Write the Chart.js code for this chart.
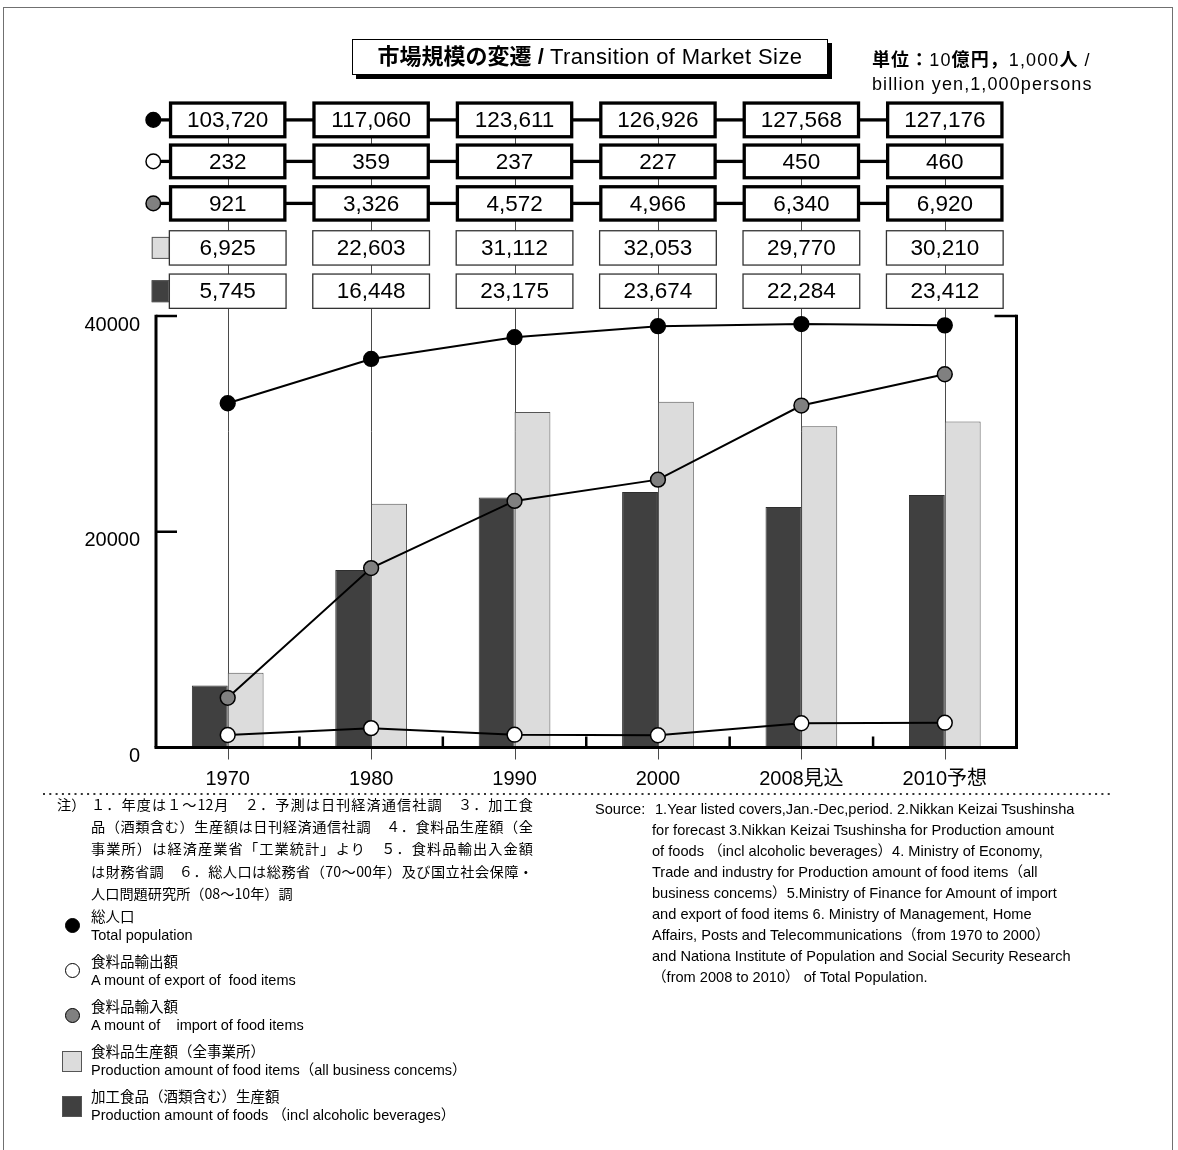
<!DOCTYPE html>
<html lang="ja">
<head>
<meta charset="utf-8">
<title>市場規模の変遷 / Transition of Market Size</title>
<script src="https://cdn.jsdelivr.net/npm/chart.js@4.4.1/dist/chart.umd.min.js"></script>
<style>
  html, body { margin: 0; padding: 0; background: #fff; }
  body {
    width: 1178px; height: 1150px; position: relative; overflow: hidden; color: #000;
    font-family: "Liberation Sans", Arial, "Noto Sans CJK JP", sans-serif;
  }
  #chart { position: absolute; left: 0; top: 0; }
  #frame { position: absolute; left: 3px; top: 7px; width: 1170px; height: 1200px; border: 1px solid #707070; box-sizing: border-box; }
  .abs { position: absolute; white-space: pre; }
  #title {
    left: 352px; top: 39px; width: 476px; height: 36px; box-sizing: border-box;
    border: 1px solid #000; box-shadow: 4px 4px 0 #000; background: #fff;
    text-align: center; font-size: 22px; line-height: 34px;
  }
  #title .en { letter-spacing: 0.4px; }
  .unit { left: 872px; font-size: 18px; line-height: 24px; letter-spacing: 1.1px; }
  .note { font-size: 14.2px; line-height: 22px; font-family: "Noto Sans CJK JP", sans-serif; }
  .note.fill { width: 442px; text-align: justify; text-align-last: justify; white-space: normal; }
  .src { font-size: 14.6px; line-height: 21px; }
  .lg { left: 91px; font-size: 14.5px; line-height: 18px; }
  .mk { position: absolute; box-sizing: border-box; }
</style>
</head>
<body>
<canvas id="chart" width="1178" height="1150"></canvas>
<div id="frame"></div>

<div id="title" class="abs"><b>市場規模の変遷 /</b> <span class="en">Transition of Market Size</span></div>
<div class="abs unit" style="top:48px"><b>単位：</b>10<b>億円，</b>1,000<b>人</b> /</div>
<div class="abs unit" style="top:72px">billion yen,1,000persons</div>

<div id="notes"></div>
<div id="sources"></div>
<div id="legend"></div>

<script>
// Categories (fiscal years) and series values
const categories = ['1970', '1980', '1990', '2000', '2008見込', '2010予想'];
const population = [103720, 117060, 123611, 126926, 127568, 127176];          // 1,000 persons
const exportAmount = [232, 359, 237, 227, 450, 460];                           // 10 billion yen
const importAmount = [921, 3326, 4572, 4966, 6340, 6920];                      // 10 billion yen
const foodItemsProduction = [6925, 22603, 31112, 32053, 29770, 30210];         // 10 billion yen
const processedFoodsProduction = [5745, 16448, 23175, 23674, 22284, 23412];    // 10 billion yen
const leftTicks = [0, 20000, 40000];

const seriesJa = ['総人口', '食料品輸出額', '食料品輸入額', '食料品生産額（全事業所）', '加工食品（酒類含む）生産額'];
const seriesEn = [
  'Total population',
  'A mount of export of  food items',
  'A mount of    import of food items',
  'Production amount of food items（all business concems）',
  'Production amount of foods （incl alcoholic beverages）'
];

const noteLines = [
  '１．年度は１～12月　２．予測は日刊経済通信社調　３．加工食',
  '品（酒類含む）生産額は日刊経済通信社調　４．食料品生産額（全',
  '事業所）は経済産業省「工業統計」より　５．食料品輸出入金額',
  'は財務省調　６．総人口は総務省（70～00年）及び国立社会保障・',
  '人口問題研究所（08～10年）調'
];
const sourceLines = [
  '1.Year listed covers,Jan.-Dec,period. 2.Nikkan Keizai Tsushinsha',
  'for forecast 3.Nikkan Keizai Tsushinsha for Production amount',
  'of foods （incl alcoholic beverages）4. Ministry of Economy,',
  'Trade and industry for Production amount of food items（all',
  'business concems）5.Ministry of Finance for Amount of import',
  'and export of food items 6. Ministry of Management, Home',
  'Affairs, Posts and Telecommunications（from 1970 to 2000）',
  'and Nationa Institute of Population and Social Security Research',
  '（from 2008 to 2010） of Total Population.'
];

const BLACK = '#000000', WHITE = '#ffffff', MID = '#808080', LIGHT = '#dcdcdc', DARK = '#404040';
const NUM_FONT = '22.5px "Liberation Sans", Arial, sans-serif';
const AXIS_FONT = '20px "Liberation Sans", Arial, "Noto Sans CJK JP", sans-serif';

const lineStyle = (fill) => ({
  type: 'line', borderColor: BLACK, borderWidth: 2, tension: 0,
  pointRadius: 7.4, pointHoverRadius: 7.4, pointBackgroundColor: fill,
  pointBorderColor: BLACK, pointBorderWidth: 1.5, order: 0, clip: false
});

// Value table above the plot: one row per series, boxes centred on each category
const tableRows = [
  { ds: 0, cy: 119.9, w: 114.3, h: 33.7, lw: 3.3, marker: 'circle', link: true },
  { ds: 1, cy: 161.4, w: 114.3, h: 32.7, lw: 3.3, marker: 'circle', link: true },
  { ds: 2, cy: 203.4, w: 114.3, h: 33.3, lw: 3.3, marker: 'circle', link: true },
  { ds: 4, cy: 247.9, w: 116.7, h: 34.3, lw: 1.3, marker: 'square', link: false },
  { ds: 3, cy: 291.2, w: 116.7, h: 34.3, lw: 1.3, marker: 'square', link: false }
];

function seg(ctx, x1, y1, x2, y2) {
  ctx.beginPath(); ctx.moveTo(x1, y1); ctx.lineTo(x2, y2); ctx.stroke();
}

const marketTable = {
  id: 'marketTable',
  beforeDatasetsDraw(chart) {
    const { ctx, chartArea: a, scales: { x } } = chart;
    ctx.save();
    ctx.strokeStyle = '#4a4a4a';
    ctx.lineWidth = 1;
    categories.forEach((_, i) => {
      const px = Math.round(x.getPixelForValue(i)) + 0.5;
      seg(ctx, px, 103, px, a.bottom + 12);
    });
    ctx.restore();
  },
  afterDatasetsDraw(chart) {
    const { ctx, chartArea: a, scales: { x, y } } = chart;
    ctx.save();
    ctx.strokeStyle = BLACK;
    // side walls
    ctx.lineWidth = 3;
    seg(ctx, a.left, a.top - 1.2, a.left, a.bottom);
    seg(ctx, a.right, a.top - 1.2, a.right, a.bottom);
    // left value ticks and the top-right tick
    ctx.lineWidth = 2.5;
    leftTicks.forEach(v => {
      if (v > 0) { const py = y.getPixelForValue(v); seg(ctx, a.left, py, a.left + 21, py); }
    });
    seg(ctx, a.right - 22, a.top, a.right, a.top);
    // baseline
    ctx.lineWidth = 3;
    seg(ctx, a.left - 1.5, a.bottom, a.right + 1.5, a.bottom);
    // category boundary ticks
    ctx.lineWidth = 2.5;
    for (let i = 1; i < categories.length; i++) {
      const px = (x.getPixelForValue(i - 1) + x.getPixelForValue(i)) / 2;
      seg(ctx, px, a.bottom - 11, px, a.bottom);
    }
    // tick labels
    ctx.fillStyle = BLACK;
    ctx.font = AXIS_FONT;
    ctx.textBaseline = 'middle';
    ctx.textAlign = 'right';
    leftTicks.forEach(v => ctx.fillText(String(v), 140, y.getPixelForValue(v) + 9));
    ctx.textAlign = 'center';
    categories.forEach((c, i) => ctx.fillText(c, x.getPixelForValue(i), a.bottom + 32));
    // dotted separator under the axis labels
    ctx.setLineDash([2, 4.3]);
    ctx.lineWidth = 2;
    ctx.strokeStyle = '#333';
    seg(ctx, 43, 794, 1114, 794);
    ctx.restore();
  },
  afterDraw(chart) {
    const { ctx, scales: { x } } = chart;
    const sets = chart.data.datasets;
    ctx.save();
    tableRows.forEach(row => {
      const ds = sets[row.ds];
      const centers = ds.data.map((_, i) => x.getPixelForValue(i));
      const half = row.w / 2;
      ctx.strokeStyle = BLACK;
      // connectors
      if (row.link) {
        ctx.lineWidth = 3.3;
        seg(ctx, 153, row.cy, centers[0] - half, row.cy);
        for (let i = 0; i < centers.length - 1; i++) {
          seg(ctx, centers[i] + half, row.cy, centers[i + 1] - half, row.cy);
        }
      }
      // row marker
      if (row.marker === 'circle') {
        ctx.beginPath();
        ctx.arc(153.3, row.cy, 7.3, 0, Math.PI * 2);
        ctx.fillStyle = ds.pointBackgroundColor;
        ctx.fill();
        ctx.lineWidth = 1.5;
        ctx.stroke();
      } else {
        const left = centers[0] - half - row.lw / 2 - 17;
        ctx.fillStyle = ds.backgroundColor;
        ctx.fillRect(left, row.cy - 11, 17, 22);
        ctx.lineWidth = 1;
        ctx.strokeStyle = '#555';
        ctx.strokeRect(left + 0.5, row.cy - 10.5, 17, 21);
        ctx.strokeStyle = BLACK;
      }
      // boxes with values
      ds.data.forEach((v, i) => {
        ctx.fillStyle = WHITE;
        ctx.fillRect(centers[i] - half, row.cy - row.h / 2, row.w, row.h);
        ctx.lineWidth = row.lw;
        ctx.strokeStyle = row.lw > 2 ? BLACK : '#333';
        ctx.strokeRect(centers[i] - half, row.cy - row.h / 2, row.w, row.h);
        ctx.fillStyle = BLACK;
        ctx.font = NUM_FONT;
        ctx.textAlign = 'center';
        ctx.textBaseline = 'middle';
        ctx.fillText(v.toLocaleString('en-US'), centers[i], row.cy + 1);
      });
    });
    ctx.restore();
  }
};

const chart = new Chart(document.getElementById('chart'), {
  type: 'bar',
  data: {
    labels: categories,
    datasets: [
      Object.assign({ label: seriesJa[0], data: population, yAxisID: 'yPop' }, lineStyle(BLACK)),
      Object.assign({ label: seriesJa[1], data: exportAmount, yAxisID: 'yTrade' }, lineStyle(WHITE)),
      Object.assign({ label: seriesJa[2], data: importAmount, yAxisID: 'yTrade' }, lineStyle(MID)),
      { type: 'bar', label: seriesJa[4], data: processedFoodsProduction, yAxisID: 'y',
        backgroundColor: DARK, borderColor: '#2e2e2e', borderWidth: 1, order: 1,
        categoryPercentage: 0.5, barPercentage: 1.0 },
      { type: 'bar', label: seriesJa[3], data: foodItemsProduction, yAxisID: 'y',
        backgroundColor: LIGHT, borderColor: '#555', borderWidth: 1, order: 1,
        categoryPercentage: 0.5, barPercentage: 1.0 }
    ]
  },
  options: {
    responsive: false,
    animation: false,
    devicePixelRatio: 1,
    layout: { padding: { left: 156, top: 316, right: 161.5, bottom: 402.5 } },
    plugins: { legend: { display: false }, tooltip: { enabled: false } },
    scales: {
      x: { display: false, offset: true },
      y: { display: false, min: 0, max: 40000 },
      yPop: { display: false, min: 0, max: 130000 },
      yTrade: { display: false, min: 0, max: 8000 }
    }
  },
  plugins: [marketTable]
});

// Notes (Japanese)
(function () {
  const box = document.getElementById('notes');
  const head = document.createElement('div');
  head.className = 'abs note';
  head.style.left = '57px';
  head.style.top = '793px';
  head.textContent = '注）';
  box.appendChild(head);
  noteLines.forEach((t, i) => {
    const d = document.createElement('div');
    d.className = 'abs note' + (i < noteLines.length - 1 ? ' fill' : '');
    d.style.left = '91px';
    d.style.top = (793 + i * 22.2) + 'px';
    d.textContent = t;
    box.appendChild(d);
  });
})();

// Sources (English)
(function () {
  const box = document.getElementById('sources');
  const head = document.createElement('div');
  head.className = 'abs src';
  head.style.left = '595px';
  head.style.top = '798.5px';
  head.textContent = 'Source:';
  box.appendChild(head);
  sourceLines.forEach((t, i) => {
    const d = document.createElement('div');
    d.className = 'abs src';
    d.style.left = (i === 0 ? 655 : 652) + 'px';
    d.style.top = (798.5 + i * 21) + 'px';
    d.textContent = t;
    box.appendChild(d);
  });
})();

// Legend, built from the chart datasets
(function () {
  const box = document.getElementById('legend');
  const order = [0, 1, 2, 4, 3];
  order.forEach((dsIndex, k) => {
    const ds = chart.data.datasets[dsIndex];
    const base = 917 + 45 * k;
    const mk = document.createElement('div');
    mk.className = 'mk';
    if (ds.type === 'line') {
      Object.assign(mk.style, {
        left: '64.5px', top: (base + 1) + 'px', width: '15px', height: '15px',
        borderRadius: '50%', border: '1.5px solid #000', background: ds.pointBackgroundColor
      });
    } else {
      Object.assign(mk.style, {
        left: '62px', top: (base - 1.5) + 'px', width: '20px', height: '21px',
        border: '1px solid #555', background: ds.backgroundColor
      });
    }
    box.appendChild(mk);
    const ja = document.createElement('div');
    ja.className = 'abs lg';
    ja.style.top = (base - 9) + 'px';
    ja.textContent = ds.label;
    box.appendChild(ja);
    const en = document.createElement('div');
    en.className = 'abs lg';
    en.style.top = (base + 9) + 'px';
    en.textContent = seriesEn[seriesJa.indexOf(ds.label)];
    box.appendChild(en);
  });
})();
</script>
</body>
</html>
